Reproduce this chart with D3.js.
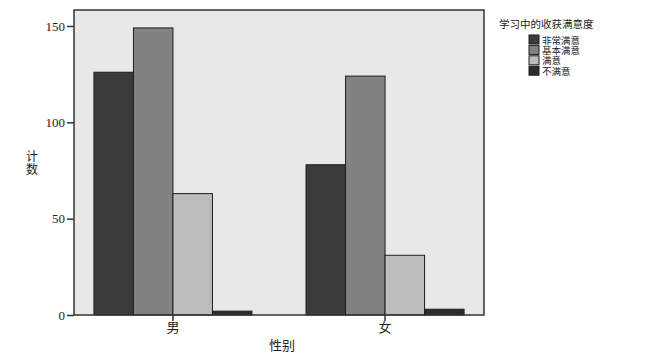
<!DOCTYPE html>
<html>
<head>
<meta charset="utf-8">
<script src="https://cdn.jsdelivr.net/npm/d3@7"></script>
<style>
  body { margin: 0; background: #fff; }
  svg text { font-family: "Liberation Serif", "Noto Sans CJK SC", serif; fill: #222; }
</style>
</head>
<body>
<div id="chart"></div>
<script>
'use strict';

const genders = ["男", "女"];
const levels = ["非常满意", "基本满意", "满意", "不满意"];
const counts_male = [126, 149, 63, 2];
const counts_female = [78, 124, 31, 3];
const y_ticks = [0, 50, 100, 150];
const level_colours = ["#3b3b3b", "#828282", "#bcbcbc", "#2c2c2c"];

const rows = genders.map(function(g, i) {
  return { gender: g, values: i === 0 ? counts_male : counts_female };
});

const width = 647, height = 361;
const svg = d3.select("#chart").append("svg")
  .attr("width", width)
  .attr("height", height);

const plot = { left: 74, right: 484, top: 10, bottom: 315 };

const x = d3.scaleBand()
  .domain(genders)
  .range([plot.left, plot.right])
  .paddingInner(0.255)
  .paddingOuter(0.094);

const xInner = d3.scaleBand()
  .domain(levels)
  .range([0, x.bandwidth()]);

const y = d3.scaleLinear()
  .domain([0, 158.3])
  .range([plot.bottom, plot.top]);

// plot background
svg.append("rect")
  .attr("x", plot.left).attr("y", plot.top)
  .attr("width", plot.right - plot.left)
  .attr("height", plot.bottom - plot.top)
  .attr("fill", "#e8e8e8");

// bars
svg.append("g")
  .selectAll("g")
  .data(rows)
  .enter().append("g")
  .attr("transform", function(d) { return "translate(" + x(d.gender) + ",0)"; })
  .selectAll("rect")
  .data(function(d) { return d.values.map(function(v, i) { return { level: levels[i], value: v, i: i }; }); })
  .enter().append("rect")
  .attr("x", function(d) { return xInner(d.level); })
  .attr("y", function(d) { return y(d.value); })
  .attr("width", xInner.bandwidth())
  .attr("height", function(d) { return plot.bottom - y(d.value); })
  .attr("fill", function(d) { return level_colours[d.i]; })
  .attr("stroke", "#1e1e1e")
  .attr("stroke-width", 1);

// frame
svg.append("rect")
  .attr("x", plot.left).attr("y", plot.top)
  .attr("width", plot.right - plot.left)
  .attr("height", plot.bottom - plot.top)
  .attr("fill", "none")
  .attr("stroke", "#333")
  .attr("stroke-width", 1.5);

// y axis
const yAxis = svg.append("g")
  .attr("transform", "translate(" + plot.left + ",0)")
  .call(d3.axisLeft(y).tickValues(y_ticks).tickSize(7).tickPadding(2).tickFormat(d3.format("d")));
yAxis.select(".domain").remove();
yAxis.selectAll("line").attr("stroke", "#333").attr("stroke-width", 1.5);
yAxis.selectAll("text").attr("font-size", 13).attr("fill", "#222");

// x axis
const xAxis = svg.append("g")
  .attr("transform", "translate(0," + plot.bottom + ")")
  .call(d3.axisBottom(x).tickSize(6).tickPadding(2));
xAxis.select(".domain").remove();
xAxis.selectAll("line").attr("stroke", "#333").attr("stroke-width", 1.5);
xAxis.selectAll("text").attr("font-size", 13).attr("fill", "#222");

// axis titles
svg.append("text")
  .attr("x", (plot.left + plot.right) / 2 + 3)
  .attr("y", 350)
  .attr("text-anchor", "middle")
  .attr("font-size", 13)
  .text("性别");

svg.append("g")
  .selectAll("text")
  .data(["计", "数"])
  .enter().append("text")
  .attr("x", 32)
  .attr("y", function(d, i) { return 161 + i * 13; })
  .attr("text-anchor", "middle")
  .attr("font-size", 12)
  .text(function(d) { return d; });

// legend
const legend = svg.append("g");
legend.append("text")
  .attr("x", 499).attr("y", 28)
  .attr("font-size", 10.5)
  .text("学习中的收获满意度");

const items = legend.selectAll("g.item")
  .data(levels)
  .enter().append("g")
  .attr("class", "item")
  .attr("transform", function(d, i) { return "translate(529," + (35 + i * 10.4) + ")"; });

items.append("rect")
  .attr("width", 10).attr("height", 9)
  .attr("fill", function(d, i) { return level_colours[i]; })
  .attr("stroke", "#1e1e1e");

items.append("text")
  .attr("x", 13).attr("y", 8.5)
  .attr("font-size", 9.5)
  .text(function(d) { return d; });
</script>
</body>
</html>
